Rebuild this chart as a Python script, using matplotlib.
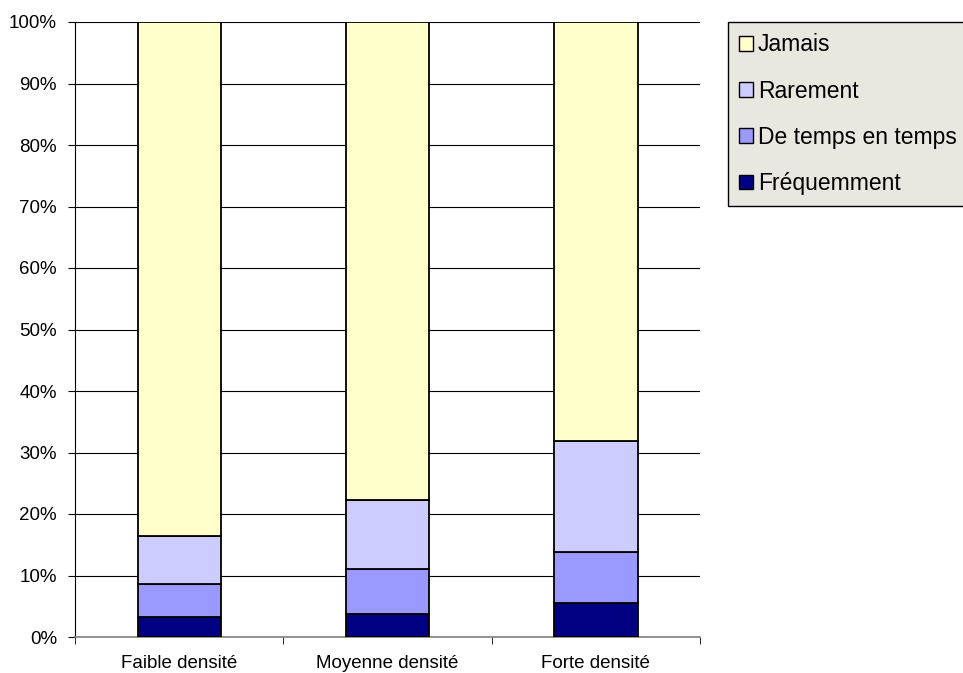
import matplotlib
matplotlib.use("Agg")
import matplotlib.pyplot as plt
from matplotlib.patches import Patch
import numpy as np

categories = ["Faible densité", "Moyenne densité", "Forte densité"]
series_names = ["Fréquemment", "De temps en temps", "Rarement", "Jamais"]
frequemment = [3.3, 3.8, 5.6]
de_temps = [5.3, 7.3, 8.3]
rarement = [7.8, 11.2, 18.0]
jamais = [83.6, 77.7, 68.1]
colors = ["#000080", "#9999FF", "#CCCCFF", "#FFFFCC"]
yticks = list(range(0, 101, 10))

plt.rcParams['font.family'] = ['Liberation Sans', 'DejaVu Sans']

fig = plt.figure(figsize=(9.63, 6.73), dpi=100)
ax = fig.add_axes([75/963, 36/673, 625/963, 615/673])

x = np.arange(len(categories))
bottom = np.zeros(len(categories))
series = [frequemment, de_temps, rarement, jamais]
for vals, c in zip(series, colors):
    ax.bar(x, vals, width=0.4, bottom=bottom, color=c, edgecolor="black", linewidth=1.3, zorder=3)
    bottom += np.array(vals)

ax.set_xlim(-0.5, 2.5)
ax.set_ylim(0, 100)
ax.set_yticks(yticks)
ax.set_yticklabels([f"{v}%" for v in yticks], fontsize=13.5)
ax.yaxis.grid(True, color="black", linewidth=0.8, zorder=0)
ax.set_axisbelow(True)

ax.set_xticks(x)
ax.set_xticklabels(categories, fontsize=13.5)
ax.tick_params(axis='x', which='major', length=0, pad=13)
ax.set_xticks([-0.5, 0.5, 1.5, 2.5], minor=True)
ax.tick_params(axis='x', which='minor', length=5, color="black", direction='out')
ax.tick_params(axis='y', length=5, color="black", direction='out', pad=8)

for s in ["top", "right"]:
    ax.spines[s].set_visible(False)
ax.spines["left"].set_color("black")
ax.spines["bottom"].set_color("#808080")
ax.spines["bottom"].set_linewidth(1.2)

handles = [Patch(facecolor=c, edgecolor="black", linewidth=1.0) for c in colors[::-1]]
labels = series_names[::-1]
leg = fig.legend(handles, labels, loc="upper left", bbox_to_anchor=(728/963, 1 - 22/673),
                 fontsize=16.5, frameon=True, fancybox=False, edgecolor="black",
                 facecolor="#EAE6E0", framealpha=1, handlelength=0.6, handleheight=0.6,
                 handletextpad=0.2, labelspacing=1.01, borderpad=0.5, borderaxespad=0)
leg.get_frame().set_linewidth(1.0)

fig.savefig("out.png", dpi=100)
